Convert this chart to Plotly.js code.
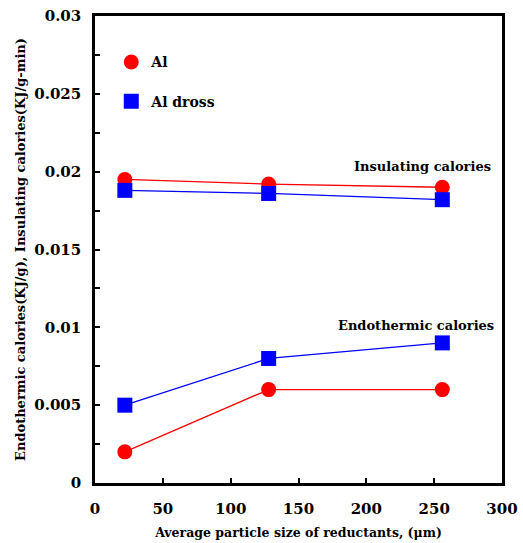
<!DOCTYPE html>
<html>
<head>
<meta charset="utf-8">
<script src="https://cdn.plot.ly/plotly-3.0.1.min.js"></script>
<style>html,body{margin:0;padding:0;background:#fff;}#chart{width:523px;height:543px;}</style>
</head>
<body>
<div id="chart"></div>
<script>
var particleSize = [22, 128, 256];
var alInsulating = [0.0195, 0.0192, 0.0190];
var drossInsulating = [0.0188, 0.0186, 0.0182];
var alEndothermic = [0.0020, 0.0060, 0.0060];
var drossEndothermic = [0.0050, 0.0080, 0.0090];
var seriesNames = ["Al", "Al dross"];
var xTicks = [0, 50, 100, 150, 200, 250, 300];
var yTicks = [0, 0.005, 0.01, 0.015, 0.02, 0.025, 0.03];
var yTickText = ["0", "0.005", "0.01", "0.015", "0.02", "0.025", "0.03"];

var RED = "#ff0000", BLUE = "#0000ff";
var FONT = "DejaVu Serif, Liberation Serif, serif";

function lineTrace(y, color) {
  return {x: particleSize, y: y, mode: "lines", line: {color: color, width: 1.3}, showlegend: false, hoverinfo: "skip"};
}
function markerTrace(y, color, symbol, name, show) {
  return {x: particleSize, y: y, mode: "markers", name: name, legendgroup: name, showlegend: show,
          marker: {color: color, symbol: symbol, size: 15}};
}

var data = [
  lineTrace(alInsulating, RED),
  lineTrace(drossInsulating, BLUE),
  lineTrace(alEndothermic, RED),
  lineTrace(drossEndothermic, BLUE),
  markerTrace(alInsulating, RED, "circle", seriesNames[0], true),
  markerTrace(alEndothermic, RED, "circle", seriesNames[0], false),
  markerTrace(drossInsulating, BLUE, "square", seriesNames[1], true),
  markerTrace(drossEndothermic, BLUE, "square", seriesNames[1], false)
];

var layout = {
  width: 523, height: 543,
  margin: {l: 95, r: 21, t: 16, b: 60},
  paper_bgcolor: "#fff", plot_bgcolor: "#fff",
  font: {family: FONT, color: "#000", size: 13},
  xaxis: {
    range: [0, 300], tickvals: xTicks, ticks: "inside", ticklen: 5, tickwidth: 1.5, tickcolor: "#000",
    showline: true, linecolor: "#000", linewidth: 2.5, mirror: true, showgrid: false, zeroline: false,
    ticklabelstandoff: 10,
    tickfont: {family: FONT, size: 15, color: "#000", weight: "bold"},
    title: {text: "<b>Average particle size of reductants, (μm)</b>", font: {family: FONT, size: 12.5}, standoff: 12}
  },
  yaxis: {
    range: [0, 0.03], tickvals: yTicks, ticktext: yTickText, ticks: "inside", ticklen: 5, tickwidth: 1.5, tickcolor: "#000",
    minor: {dtick: 0.0025, ticks: "inside", ticklen: 5, tickwidth: 1.5, tickcolor: "#000", showgrid: false},
    showline: true, linecolor: "#000", linewidth: 2.5, mirror: true, showgrid: false, zeroline: false,
    ticklabelstandoff: 8,
    tickfont: {family: FONT, size: 15, color: "#000", weight: "bold"},
    title: {text: "<b>Endothermic calories(KJ/g), Insulating calories(KJ/g-min)</b>", font: {family: FONT, size: 13}, standoff: 6}
  },
  legend: {x: 0.04, y: 0.935, xanchor: "left", yanchor: "top", bgcolor: "rgba(0,0,0,0)",
           font: {family: FONT, size: 14, weight: "bold"}, tracegroupgap: 18},
  annotations: [
    {xref: "paper", yref: "y", x: 0.978, y: 0.0197, xanchor: "right", yanchor: "bottom", showarrow: false,
     text: "<b>Insulating calories</b>", font: {family: FONT, size: 13}},
    {xref: "paper", yref: "y", x: 0.985, y: 0.0095, xanchor: "right", yanchor: "bottom", showarrow: false,
     text: "<b>Endothermic calories</b>", font: {family: FONT, size: 13}}
  ]
};

Plotly.newPlot("chart", data, layout, {displayModeBar: false});
</script>
</body>
</html>
